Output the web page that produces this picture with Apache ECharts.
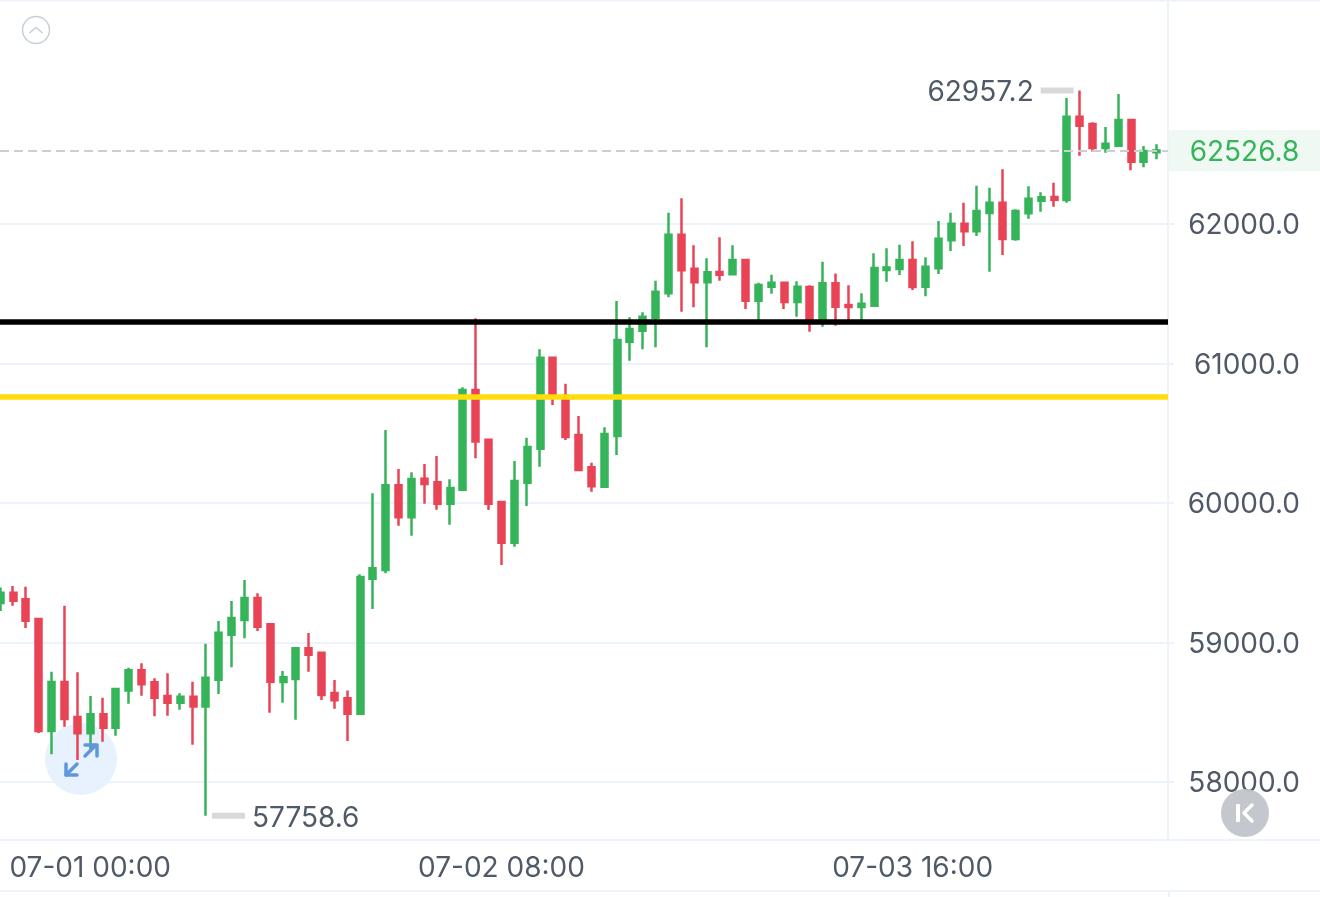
<!DOCTYPE html>
<html>
<head>
<meta charset="utf-8">
<title>BTC hourly candles</title>
<script src="https://cdn.jsdelivr.net/npm/echarts@6/dist/echarts.min.js"></script>
<style>
  html, body { margin: 0; padding: 0; background: #fff; overflow: hidden; }
  #chart { width: 1320px; height: 897px; }
</style>
</head>
<body>
<div id="chart"></div>
<script>
// Hourly candles; the time axis counts hours from 07-01 00:00, first candle is 7 hours earlier.
const opens = [59283,59357,59310,59168,58365,58717,58466,58349,58485,58389,
  58655,58801,58715,58616,58568,58611,58542,58733,59056,59161,
  59319,59130,58717,58738,58958,58927,58638,58600,58490,59457,
  59520,60127,59898,60174,60148,59995,60095,60810,60453,60007,
  59715,60145,60389,61041,60767,60487,60256,60117,60480,61156,
  61235,61328,61503,61923,61679,61582,61656,61639,61742,61450,
  61551,61579,61441,61548,61297,61575,61419,61405,61414,61670,
  61677,61742,61551,61682,61883,62002,61948,62079,62152,61893,
  62077,62167,62193,62172,62769,62717,62545,62561,62745,62446,62514];
const closes = [59357,59300,59156,58365,58717,58451,58349,58485,58389,58667,
  58801,58700,58604,58568,58611,58542,58747,59070,59175,59319,
  59113,58719,58750,58958,58912,58624,58586,58490,59470,59532,
  60127,59898,60172,60136,59995,60107,60810,60440,59995,59715,
  60158,60401,61041,60767,60473,60236,60120,60494,61168,61247,
  61335,61515,61923,61668,61582,61654,61637,61742,61450,61563,
  61579,61441,61551,61305,61575,61407,61405,61429,61684,61689,
  61742,61548,61694,61895,62002,61948,62093,62152,61893,62093,
  62181,62191,62174,62769,62705,62545,62576,62745,62446,62523,62526.8];
const lows = [59226,59264,59104,58351,58198,58396,58158,58229,58289,58332,
  58561,58619,58471,58475,58518,58267,57758.6,58631,58822,59030,
  59082,58497,58568,58447,58791,58588,58525,58294,58490,59240,
  59496,59837,59766,59995,59952,59844,60095,60320,59950,59555,
  59687,59978,60260,60702,60451,60231,60081,60117,60344,61020,
  61102,61116,61475,61371,61403,61116,61594,61637,61391,61305,
  61500,61391,61335,61228,61264,61271,61297,61312,61407,61586,
  61634,61527,61482,61641,61806,61842,61914,61658,61778,61880,
  62038,62088,62124,62152,62490,62518,62511,62559,62385,62406,62464];
const highs = [59394,59405,59400,59168,58791,59264,58786,58616,58604,58672,
  58819,58851,58743,58779,58636,58719,58991,59154,59297,59448,
  59353,59133,58796,58966,59068,58930,58731,58655,59489,60070,
  60523,60244,60220,60280,60337,60170,60829,61324,60456,60007,
  60301,60468,61102,61041,60855,60624,60289,60543,61448,61331,
  61367,61594,62081,62184,61847,61754,61905,61847,61742,61579,
  61637,61579,61589,61561,61730,61646,61561,61503,61790,61826,
  61851,61876,61761,62021,62081,62152,62274,62260,62392,62105,
  62270,62227,62296,62903,62957.2,62729,62695,62932,62745,62559,62571];
const firstHour = -7;
const hourTicks = [0, 32, 64];
const hourTickLabels = ['07-01 00:00', '07-02 08:00', '07-03 16:00'];
const priceTicks = [58000, 59000, 60000, 61000, 62000];
const supportLevel = 61297;
const resistanceLevel = 60764;

const GREEN = '#35b45a';
const RED = '#e94456';
const TEXT = '#4f5967';
const RULE = '#edf3fb';
const FONT = 'Inter, "Noto Sans", sans-serif';
const FONT_SIZE = 28;

const hours = opens.map((_, i) => firstHour + i);
const candles = opens.map((o, i) => [hours[i], o, closes[i], lows[i], highs[i]]);
const lastClose = closes[closes.length - 1];
const peak = Math.max(...highs);
const trough = Math.min(...lows);
const peakHour = hours[highs.indexOf(peak)];
const troughHour = hours[lows.indexOf(trough)];

const extremeMark = (name, coord, offset, position) => ({
  name,
  coord,
  symbol: 'rect',
  symbolSize: [33, 6],
  symbolOffset: [offset, 0],
  itemStyle: { color: '#d9d9d9' },
  label: {
    show: true,
    position,
    distance: 7,
    verticalAlign: 'top',
    lineHeight: 5,
    formatter: String(coord[1].toFixed(1)),
    color: TEXT,
    fontFamily: FONT,
    fontSize: FONT_SIZE
  }
});

const chart = echarts.init(document.getElementById('chart'), null, { renderer: 'canvas' });

chart.setOption({
  animation: false,
  backgroundColor: '#ffffff',
  grid: { left: 0, right: 152, top: 1, bottom: 57 },
  xAxis: {
    type: 'value',
    min: -7.0233,
    max: 83.87,
    splitLine: { show: false },
    axisTick: { show: false, customValues: hourTicks },
    axisLine: { show: true, onZero: false, lineStyle: { color: RULE, width: 2 } },
    axisLabel: {
      customValues: hourTicks,
      formatter: v => hourTickLabels[hourTicks.indexOf(v)],
      color: TEXT,
      fontFamily: FONT,
      fontSize: FONT_SIZE,
      margin: 15
    }
  },
  yAxis: {
    type: 'value',
    position: 'right',
    min: 57584.2,
    max: 63598.5,
    axisLine: { show: true, onZero: false, lineStyle: { color: RULE, width: 2 } },
    axisTick: { show: true, length: 6, customValues: priceTicks, lineStyle: { color: RULE, width: 2 } },
    splitLine: { show: true, lineStyle: { color: RULE, width: 2 } },
    axisLabel: {
      customValues: priceTicks,
      formatter: v => v.toFixed(1),
      color: TEXT,
      fontFamily: FONT,
      fontSize: FONT_SIZE,
      align: 'right',
      verticalAlign: 'top',
      lineHeight: 4,
      margin: 132
    }
  },
  series: [{
    type: 'candlestick',
    name: 'BTC',
    barWidth: 6.5,
    data: candles,
    encode: { x: 0, y: [1, 2, 3, 4] },
    itemStyle: {
      color: GREEN,
      color0: RED,
      borderColor: GREEN,
      borderColor0: RED,
      borderWidth: 2.5
    },
    markLine: {
      silent: true,
      symbol: 'none',
      animation: false,
      data: [
        {
          yAxis: lastClose,
          lineStyle: { color: '#caced5', type: [9, 5], width: 2 },
          label: {
            show: true,
            position: 'end',
            distance: 1,
            formatter: '{tag|' + lastClose.toFixed(1) + '}',
            rich: {
              tag: {
                width: 151,
                height: 37,
                padding: [4, 0, 0, 0],
                align: 'center',
                backgroundColor: '#f0f8f3',
                color: GREEN,
                fontFamily: FONT,
                fontSize: FONT_SIZE
              }
            }
          }
        },
        { yAxis: supportLevel, lineStyle: { color: '#000000', type: 'solid', width: 5.5 }, label: { show: false } },
        { yAxis: resistanceLevel, lineStyle: { color: '#ffdc0a', type: 'solid', width: 5.5 }, label: { show: false } }
      ]
    },
    markPoint: {
      silent: true,
      animation: false,
      data: [
        extremeMark('peak', [peakHour, peak], -22.5, 'left'),
        extremeMark('trough', [troughHour, trough], 22.6, 'right')
      ]
    }
  }],
  graphic: [
    // frame rules
    { type: 'line', shape: { x1: 0, y1: 0.5, x2: 1320, y2: 0.5 }, style: { stroke: RULE, lineWidth: 2 }, z: 5 },
    { type: 'line', shape: { x1: 0, y1: 891, x2: 1320, y2: 891 }, style: { stroke: RULE, lineWidth: 2 }, z: 5 },
    { type: 'line', shape: { x1: 1169, y1: 891, x2: 1169, y2: 897 }, style: { stroke: RULE, lineWidth: 2 }, z: 5 },
    { type: 'line', shape: { x1: 1169, y1: 840, x2: 1320, y2: 840 }, style: { stroke: RULE, lineWidth: 2 }, z: 5 },
    // collapse control, upper left
    { type: 'circle', shape: { cx: 36, cy: 30, r: 13.5 }, style: { fill: '#fff', stroke: '#c6d0da', lineWidth: 1.5 }, z: 20 },
    { type: 'polyline', shape: { points: [[29.5, 33], [36, 27.5], [42.5, 33]] }, style: { fill: 'none', stroke: '#c6d0da', lineWidth: 1.5 }, z: 21 },
    // expand control sits under the candles, its arrows above them
    { type: 'circle', shape: { cx: 81, cy: 759, r: 36 }, style: { fill: '#e8f2fe' }, z: 1 },
    { type: 'polyline', shape: { points: [[85, 756], [96, 745]] }, style: { fill: 'none', stroke: '#5f97dd', lineWidth: 3.5, lineCap: 'round' }, z: 21 },
    { type: 'polyline', shape: { points: [[85, 745], [97, 745], [97, 756]] }, style: { fill: 'none', stroke: '#5f97dd', lineWidth: 3.5, lineCap: 'round', lineJoin: 'round' }, z: 21 },
    { type: 'polyline', shape: { points: [[77, 764], [66, 775]] }, style: { fill: 'none', stroke: '#5f97dd', lineWidth: 3.5, lineCap: 'round' }, z: 21 },
    { type: 'polyline', shape: { points: [[66, 764], [66, 775], [77, 775]] }, style: { fill: 'none', stroke: '#5f97dd', lineWidth: 3.5, lineCap: 'round', lineJoin: 'round' }, z: 21 },
    // jump-to-latest control over the axis
    { type: 'circle', shape: { cx: 1245, cy: 813, r: 24 }, style: { fill: 'rgba(193,197,203,0.95)' }, z: 20 },
    { type: 'rect', shape: { x: 1236, y: 804, width: 4, height: 18, r: 1 }, style: { fill: '#ffffff' }, z: 21 },
    { type: 'polyline', shape: { points: [[1252, 805], [1244, 813], [1252, 821]] }, style: { fill: 'none', stroke: '#ffffff', lineWidth: 3.5, lineCap: 'round', lineJoin: 'round' }, z: 21 }
  ]
});
</script>
</body>
</html>
